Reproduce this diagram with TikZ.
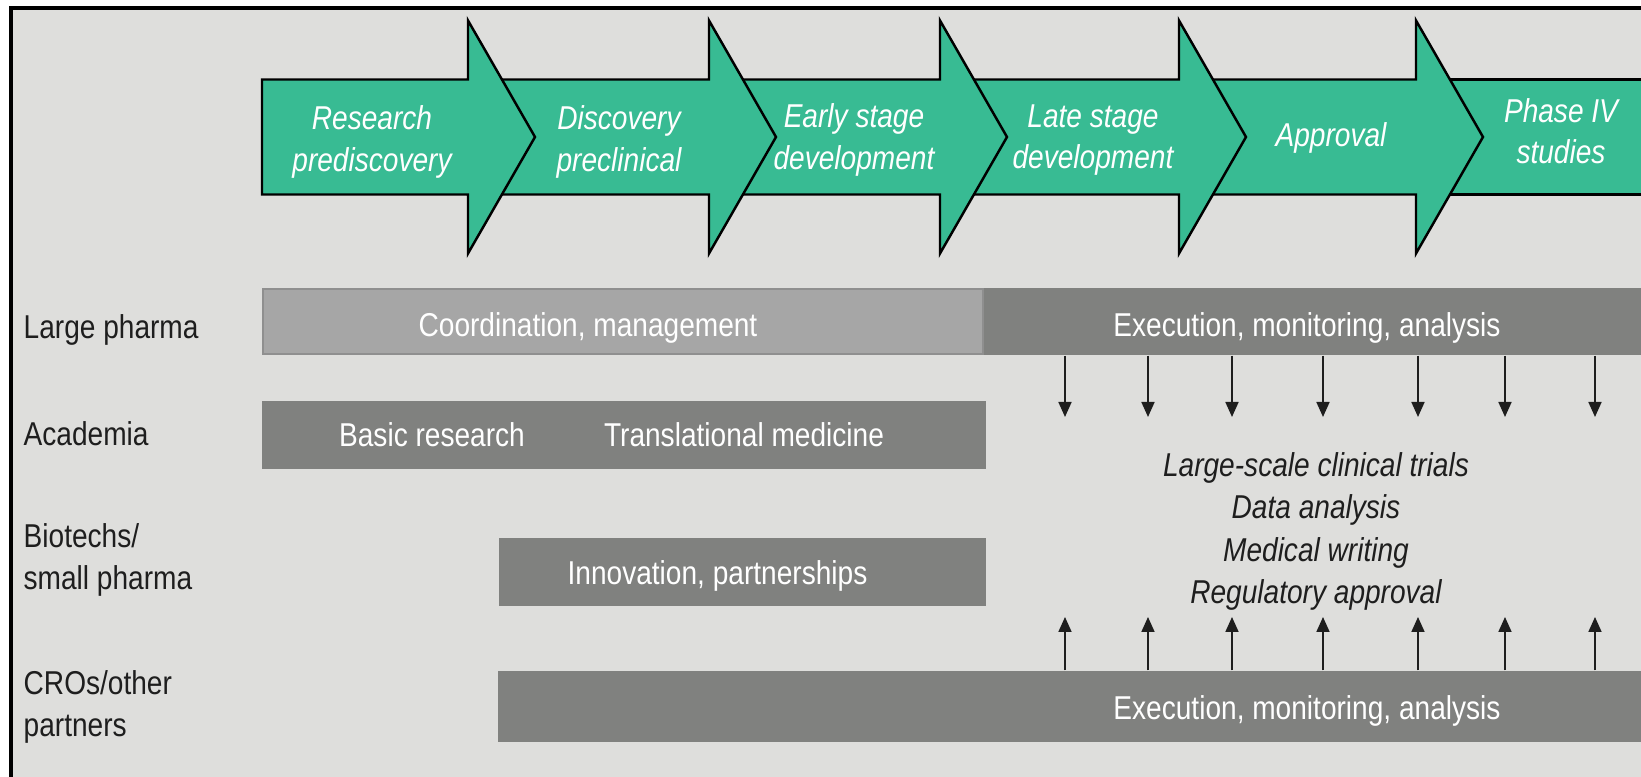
\documentclass[tikz,border=0pt]{standalone}
\usepackage{fontspec}
\setmainfont{Liberation Sans}[FakeStretch=0.85]
\usepackage{xcolor}
\definecolor{stagegreen}{RGB}{56,187,147}
\definecolor{panelgray}{RGB}{222,222,220}
\definecolor{bardark}{RGB}{128,129,127}
\definecolor{barlight}{RGB}{166,166,166}
\definecolor{baredge}{RGB}{143,143,143}
\definecolor{inkdark}{RGB}{30,30,30}
\usepackage{tikz}
\usetikzlibrary{
  arrows.meta,
  positioning
}

\begin{document}
\begin{tikzpicture}[
  txt/.style={inner sep=0pt, font=\fontsize{9.4}{11.8}\selectfont},
  stagelbl/.style={txt, font=\fontsize{9.4}{11.8}\selectfont\itshape, text=white, align=center},
  rowlbl/.style={txt, text=inkdark, align=left},
  rowbar/.style={inner sep=0pt, fill=bardark},
  bartxt/.style={txt, text=white, anchor=base},
  stage/.style={fill=stagegreen, draw=black, line width=0.7pt, line join=miter},
  flow/.style={-{Triangle[width=1.3mm, length=1.5mm]}, line width=0.5pt, inkdark},
]

\useasboundingbox (0,0) rectangle (16.41,7.77);

% Panel
\fill[panelgray] (0.11,0) rectangle (16.41,7.69);
\draw[line width=1pt] (0.11,0) -- (0.11,7.69) -- (16.41,7.69);

% Stage arrows, last one first so that each head lies over the next body
\fill[stagegreen] (14.16,5.825) rectangle (16.41,6.975);
\draw[line width=0.7pt] (14.16,6.975) -- (16.41,6.975) (14.16,5.825) -- (16.41,5.825);
\foreach \lft/\bk in {11.79/14.16, 9.40/11.79, 7.09/9.40, 4.68/7.09, 2.62/4.68} {
  \draw[stage] (\lft,5.825) -- (\bk,5.825) -- (\bk,5.235) -- ({\bk+0.67},6.40)
    -- (\bk,7.565) -- (\bk,6.975) -- (\lft,6.975) -- cycle;
}

% Stage labels
\node[stagelbl] (research)  at (3.72,6.35)  {Research\\prediscovery};
\node[stagelbl] (discovery) at (6.19,6.35)  {Discovery\\preclinical};
\node[stagelbl] (early)     at (8.54,6.37)  {Early stage\\development};
\node[stagelbl] (late)      at (10.93,6.37) {Late stage\\development};
\node[stagelbl, anchor=base] (approval) at (13.31,6.30) {Approval};
\node[stagelbl] (phasefour) at (15.61,6.46) {Phase IV\\studies};

% Row labels
\node[rowlbl, anchor=base west] (large)   at (0.23,4.38) {Large pharma};
\node[rowlbl, anchor=base west] (acad)    at (0.23,3.31) {Academia};
\node[rowlbl, anchor=west]      (biotech) at (0.23,2.17) {Biotechs/\\small pharma};
\node[rowlbl, anchor=west]      (cro)     at (0.23,0.70) {CROs/other\\partners};

% Bars
\node[rowbar, minimum width=6.57cm, minimum height=0.67cm] (lpexecbar) at (13.125,4.555) {};
\node[rowbar, fill=barlight, draw=baredge, line width=0.6pt,
      minimum width=7.20cm, minimum height=0.65cm] (coordbar) at (6.23,4.555) {};
\node[rowbar, minimum width=7.24cm, minimum height=0.68cm]  (acadbar) at (6.24,3.42) {};
\node[rowbar, minimum width=4.87cm, minimum height=0.68cm]  (biobar)  at (7.425,2.05) {};
\node[rowbar, minimum width=11.43cm, minimum height=0.71cm] (crobar)  at (10.695,0.705) {};

% Bar texts
\node[bartxt] (coordtxt) at (5.88,4.40)  {Coordination, management};
\node[bartxt] (lpexec)   at (13.07,4.40) {Execution, monitoring, analysis};
\node[bartxt] (basic)    at (4.32,3.30)  {Basic research};
\node[bartxt] (transl)   at (7.44,3.30)  {Translational medicine};
\node[bartxt] (innov)    at (7.175,1.92) {Innovation, partnerships};
\node[bartxt] (croexec)  at (13.07,0.57) {Execution, monitoring, analysis};

% Outsourced work
\node[txt, font=\fontsize{9.4}{12}\selectfont\itshape, text=inkdark, align=center] (tasks)
  at (13.16,2.455) {Large-scale clinical trials\\Data analysis\\Medical writing\\Regulatory approval};

% Hand-over arrows
\foreach \x in {10.65, 11.48, 12.32, 13.23, 14.18, 15.05, 15.95} {
  \draw[flow] (\x,0 |- lpexecbar.south) -- (\x,3.60);
  \draw[flow] (\x,0 |- crobar.north) -- (\x,1.60);
}

\end{tikzpicture}
\end{document}
